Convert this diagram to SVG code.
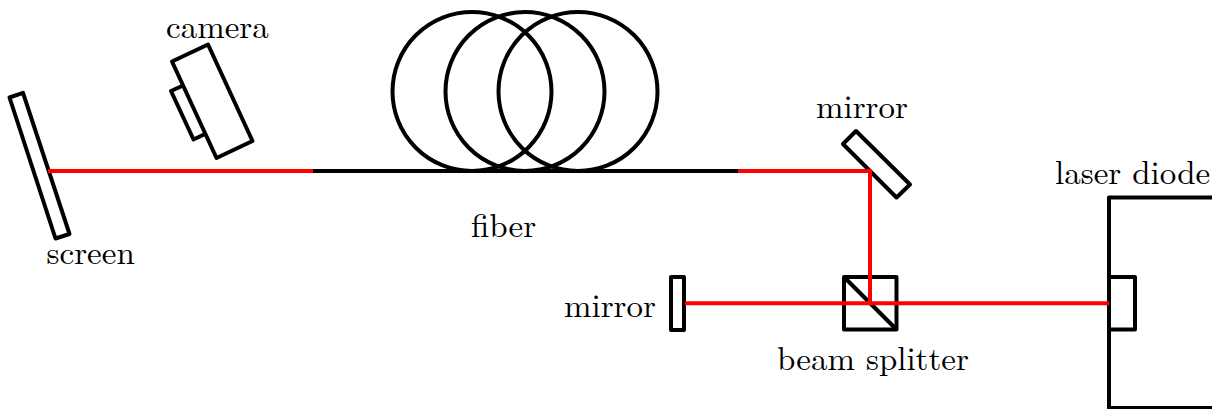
<svg xmlns="http://www.w3.org/2000/svg" width="1212" height="409" viewBox="0 0 1212 409">
<style>
.k{fill:none;stroke:#000;stroke-width:4;stroke-linejoin:round}
.r{fill:none;stroke:#f00;stroke-width:4;stroke-linejoin:round}
text{font-family:"Latin Modern Roman","CMU Serif","Liberation Serif",serif;font-size:33px;fill:#000}
</style>
<rect width="1212" height="409" fill="#fff"/>
<g id="fiber">
<circle class="k" cx="472" cy="91.500" r="79.500"/>
<circle class="k" cx="525" cy="91.500" r="79.500"/>
<circle class="k" cx="578" cy="91.500" r="79.500"/>
<path class="k" d="M313 171H738"/>
<text x="471" y="237">fiber</text>
</g>
<g id="screen">
<path class="k" d="M9.500 97.500L23 92.800L69.500 234L55.500 238.500Z"/>
<text x="46.500" y="264">screen</text>
</g>
<g id="camera">
<path class="k" d="M172 61.500L208 44.500L252.500 141L216.500 158Z"/>
<path class="k" d="M182 86L171 91L193.500 139.500L204 134.500"/>
<text x="166" y="38">camera</text>
</g>
<g id="mirror-top">
<path class="k" d="M843 144L856 131L910 184.500L896.500 197.500Z"/>
<text x="816" y="118">mirror</text>
</g>
<g id="mirror-left">
<rect class="k" x="671" y="277" width="13" height="53"/>
<text x="564" y="317">mirror</text>
</g>
<g id="beam-splitter">
<rect class="k" x="844" y="277" width="52.500" height="52.500"/>
<path class="k" d="M844 277L896.500 329.500"/>
<text x="777" y="370">beam splitter</text>
</g>
<g id="laser-diode">
<path class="k" d="M1212 197.500H1109V408H1212"/>
<rect class="k" x="1109" y="277" width="26" height="52.500"/>
<text x="1055" y="184">laser diode</text>
</g>
<g id="connectors">
<path class="r" d="M48 171H313"/>
<path class="r" d="M738 171H870V303"/>
<path class="r" d="M685 303.300H1109"/>
</g>
</svg>
